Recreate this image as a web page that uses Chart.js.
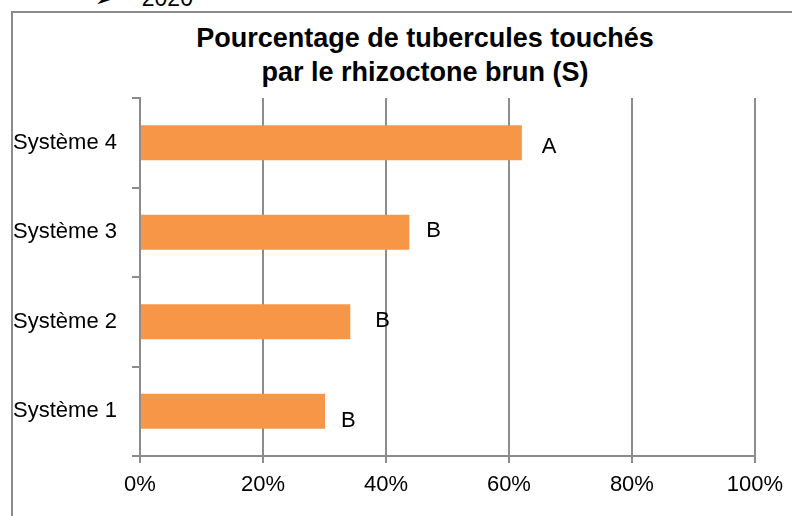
<!DOCTYPE html>
<html lang="fr">
<head>
    <meta charset="UTF-8">
    <title>Rhizoctone brun</title>
    <script src="https://cdn.jsdelivr.net/npm/chart.js"></script>
    <style>
        body {
            margin: 0;
            width: 792px;
            height: 516px;
            overflow: hidden;
            position: relative;
            background: white;
            font-family: "Liberation Sans", Arial, sans-serif;
        }
        #year {
            position: absolute;
            left: 95px;
            top: -13px;
            font-size: 23px;
            line-height: 23px;
            color: black;
            white-space: nowrap;
        }
        #year .arrow { font-family: "DejaVu Sans", sans-serif; font-size: 20px; margin-right: 30px; }
        #frame {
            position: absolute;
            left: 11px;
            top: 11px;
            width: 900px;
            height: 600px;
            border: 2px solid #8c8c8c;
        }
        #title {
            position: absolute;
            left: 125px;
            width: 600px;
            top: 21px;
            text-align: center;
            font-weight: bold;
            font-size: 27px;
            line-height: 34px;
            color: black;
        }
        #chartBox {
            position: absolute;
            left: 0;
            top: 0;
            width: 792px;
            height: 516px;
        }
    </style>
</head>
<body>
    <div id="year"><span class="arrow">➢</span>2020</div>
    <div id="frame"></div>
    <div id="title">Pourcentage de tubercules touchés<br>par le rhizoctone brun (S)</div>
    <div id="chartBox"><canvas id="chart"></canvas></div>

    <script>
        // data
        const categories = ['Système 1', 'Système 2', 'Système 3', 'Système 4'];
        const percentTouched = [30.1, 34.2, 43.8, 62.1];
        const groupLetters = ['B', 'B', 'B', 'A'];
        const xTicks = [0, 20, 40, 60, 80, 100];

        // small hand placement of the letters, like the text boxes in the original
        const letterShift = [[16, 10], [25, -1], [17, -1], [20, 4]];

        const gray = '#8c8c8c';
        Chart.defaults.font.family = "'Liberation Sans', Arial, sans-serif";
        Chart.defaults.font.size = 22;
        Chart.defaults.color = '#000';

        const letterPlugin = {
            id: 'letters',
            afterDatasetsDraw(chart) {
                const ctx = chart.ctx;
                const meta = chart.getDatasetMeta(0);
                ctx.save();
                ctx.font = "22px 'Liberation Sans', Arial, sans-serif";
                ctx.fillStyle = '#000';
                ctx.textAlign = 'left';
                ctx.textBaseline = 'middle';
                meta.data.forEach((bar, i) => {
                    ctx.fillText(groupLetters[i], bar.x + letterShift[i][0], bar.y + letterShift[i][1]);
                });
                ctx.restore();
            }
        };

        new Chart(document.getElementById('chart'), {
            type: 'bar',
            data: {
                labels: categories,
                datasets: [{
                    data: percentTouched,
                    backgroundColor: '#f79646',
                    borderWidth: 0,
                    categoryPercentage: 1,
                    barPercentage: 0.39
                }]
            },
            options: {
                indexAxis: 'y',
                responsive: true,
                maintainAspectRatio: false,
                animation: false,
                layout: { padding: { top: 98, right: 35, left: 0, bottom: 0 } },
                plugins: {
                    legend: { display: false },
                    title: { display: false },
                    tooltip: { enabled: false }
                },
                scales: {
                    x: {
                        min: 0,
                        max: 100,
                        afterBuildTicks: s => { s.ticks = xTicks.map(v => ({ value: v })); },
                        afterFit: s => { s.height = 60; },
                        ticks: { callback: v => v + '%', padding: 9, maxRotation: 0 },
                        grid: { color: gray, lineWidth: 2, tickLength: 7, drawTicks: true },
                        border: { color: gray, width: 2 }
                    },
                    y: {
                        reverse: true,
                        afterFit: s => { s.width = 140; },
                        ticks: { padding: 15 },
                        grid: { drawOnChartArea: false, color: gray, lineWidth: 2, tickLength: 8, offset: true },
                        border: { color: gray, width: 2 }
                    }
                }
            },
            plugins: [letterPlugin]
        });
    </script>
</body>
</html>
